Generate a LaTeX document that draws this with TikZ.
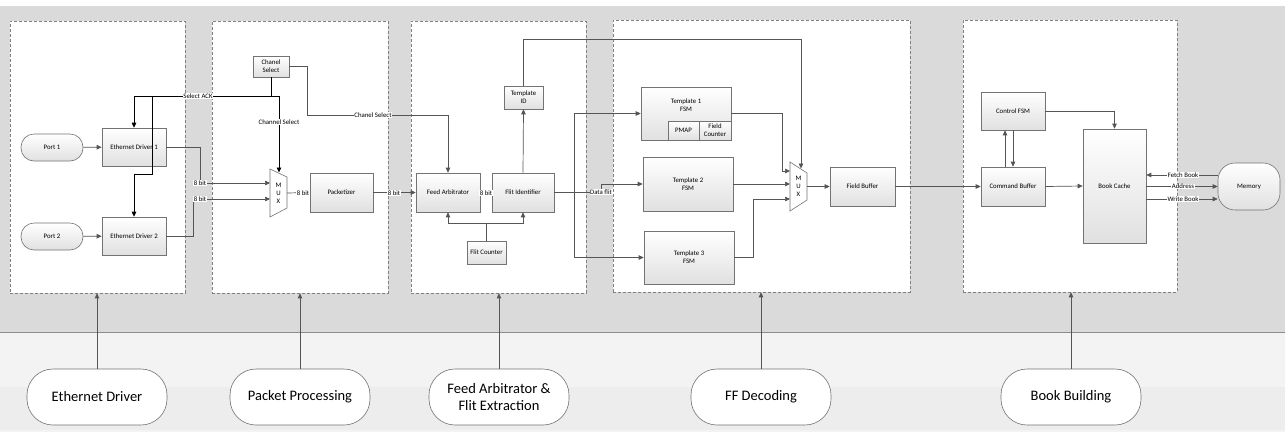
\documentclass[tikz,border=0pt]{standalone}
\usepackage{fontspec}
\setmainfont{Carlito}
\usetikzlibrary{arrows.meta,calc}
\definecolor{hatchgray}{HTML}{DADADA}
\definecolor{lowgray}{HTML}{F3F3F3}
\definecolor{lowgray2}{HTML}{EDEDED}
\definecolor{linegray}{HTML}{555555}
\newcommand\smfont{\fontsize{6.8}{8}\selectfont}
\newcommand\bigfont{\fontsize{14.5}{17}\selectfont}
\begin{document}
\begin{tikzpicture}[x=1pt,y=-1pt,
  blk/.style={draw=black!55, line width=0.6pt, top color=white, bottom color=black!12,
              inner sep=0pt, font=\smfont, align=center},
  panel/.style={draw=black!50, line width=0.6pt, dash pattern=on 3pt off 2pt, fill=white, inner sep=0pt},
  bigoval/.style={draw=black!55, line width=0.6pt, fill=white, rounded corners=26pt,
                  minimum width=140pt, minimum height=56pt, font=\bigfont, align=center, inner sep=0pt},
  sig/.style={draw=linegray, line width=0.7pt},
  ack/.style={draw=black, line width=0.9pt},
  sigarr/.style={-{Triangle[length=5pt,width=4.5pt]}},
  lbl/.style={fill=white, inner sep=0.6pt, font=\smfont},
  muxst/.style={draw=black!55, line width=0.6pt, fill=white},
  muxtxt/.style={font=\smfont, align=center, inner sep=0pt}
]
\useasboundingbox (0,0) rectangle (1285,432);
% background
\fill[white] (0,0) rectangle (1285,432);
\fill[hatchgray] (0,6) rectangle (1285,332);
\fill[lowgray] (0,332) rectangle (1285,432);
\fill[lowgray2] (0,387) rectangle (1285,430);
\draw[black!45, line width=0.6pt] (0,332) -- (1285,332);

% panels
\node[panel, minimum width=175pt, minimum height=272pt] (p1) at (97.5,157) {};
\node[panel, minimum width=176pt, minimum height=272pt] (p2) at (300,157) {};
\node[panel, minimum width=175pt, minimum height=272pt] (p3) at (498.5,157) {};
\node[panel, minimum width=297pt, minimum height=272pt] (p4) at (761.5,156) {};
\node[panel, minimum width=214pt, minimum height=272pt] (p5) at (1070,156) {};

% bottom ovals
\node[bigoval] (b1) at (97,397) {Ethernet Driver};
\node[bigoval] (b2) at (300,397) {Packet Processing};
\node[bigoval] (b3) at (499,397) {Feed Arbitrator \&\\Flit Extraction};
\node[bigoval] (b4) at (761,397) {FF Decoding};
\node[bigoval] (b5) at (1071,397) {Book Building};
\foreach \b/\p in {b1/p1,b2/p2,b3/p3,b4/p4,b5/p5}
  \draw[sig,sigarr] (\b.north) -- (\b.north |- \p.south);

% Ethernet driver panel
\node[blk, minimum width=62pt, minimum height=27pt, rounded corners=13pt] (port1) at (52,147.5) {Port 1};
\node[blk, minimum width=62pt, minimum height=27pt, rounded corners=13pt] (port2) at (52,236.5) {Port 2};
\node[blk, minimum width=64pt, minimum height=38pt] (ed1) at (134,147) {Ethernet Driver 1};
\node[blk, minimum width=64pt, minimum height=38pt] (ed2) at (134,236) {Ethernet Driver 2};

% Packet processing panel
\node[blk, minimum width=36pt, minimum height=21pt] (chsel) at (271,66.5) {Chanel\\Select};
\node[blk, minimum width=63pt, minimum height=39pt] (pack) at (341.5,192.5) {Packetizer};
\draw[muxst] (270,169) -- (287,177) -- (287,208) -- (270,217) -- cycle;
\node[muxtxt] (mux1) at (278.5,193) {M\\U\\X};
\coordinate (m1a) at (270,183);
\coordinate (m1b) at (270,199);
\coordinate (m1top) at (279,172.5);
\coordinate (m1out) at (287,193);

% Feed arbitrator panel
\node[blk, minimum width=64pt, minimum height=39pt] (feed) at (448,192.5) {Feed Arbitrator};
\node[blk, minimum width=62pt, minimum height=39pt] (flit) at (523,192.5) {Flit Identifier};
\node[blk, minimum width=39pt, minimum height=23pt] (tid) at (523.5,97.5) {Template\\ID};
\node[blk, minimum width=39pt, minimum height=23pt] (fcnt) at (486.5,252.5) {Flit Counter};

% FF decoding panel
\node[blk, minimum width=90pt, minimum height=53pt] (t1) at (686,113.5) {};
\node[muxtxt] at (686,105) {Template 1\\FSM};
\node[blk, minimum width=31pt, minimum height=19pt] (pmap) at (683.5,130.5) {PMAP};
\node[blk, minimum width=32pt, minimum height=19pt] (fcount) at (715,130.5) {Field\\Counter};
\node[blk, minimum width=90pt, minimum height=54pt] (t2) at (688,184) {Template 2\\FSM};
\node[blk, minimum width=90pt, minimum height=53pt] (t3) at (689,257.5) {Template 3\\FSM};
\draw[muxst] (790,162) -- (807,173) -- (807,200) -- (790,211) -- cycle;
\node[muxtxt] (mux2) at (798.5,186.5) {M\\U\\X};
\coordinate (m2a) at (790,171);
\coordinate (m2b) at (790,184);
\coordinate (m2c) at (790,199);
\coordinate (m2top) at (801,168.5);
\coordinate (m2out) at (807,186.5);
\node[blk, minimum width=65pt, minimum height=39pt] (fbuf) at (862.5,186.5) {Field Buffer};

% Book building panel
\node[blk, minimum width=64pt, minimum height=38pt] (cfsm) at (1013,111) {Control FSM};
\node[blk, minimum width=64pt, minimum height=39pt] (cbuf) at (1013,186.5) {Command Buffer};
\node[blk, minimum width=63pt, minimum height=114pt] (bcache) at (1114.5,186) {Book Cache};
\node[blk, minimum width=62pt, minimum height=47pt, rounded corners=17pt] (mem) at (1249,186.5) {Memory};

% ---------- connectors ----------
\draw[sig,sigarr] (port1) -- (ed1);
\draw[sig,sigarr] (port2) -- (ed2);

% select ack / channel select
\coordinate (sbus) at (279,96);
\coordinate (sb) at (152,96);
\draw[ack] (chsel.south) -- (chsel.south |- sbus);
\draw[ack,sigarr] (sbus) -- (m1top);
\draw[ack,sigarr] (sbus) -- (ed1.north |- sbus) -- (ed1.north);
\draw[ack,sigarr] (sb) -- (152,174) -| (ed2.north);

% 8 bit inputs
\draw[sig,sigarr] (ed1.east) -| (200,183) -- (m1a);
\draw[sig,sigarr] (ed2.east) -| (193,199) -- (m1b);
\draw[sig,sigarr] (m1out) -- (pack.west);
\draw[sig,sigarr] (pack.east) -- (feed.west);
\draw[sig,sigarr] (chsel.east) -| (307,115) -| (feed.north);
\draw[sig] (feed.east) -- (flit.west);
\draw[sig,sigarr] (flit.north) -- (tid.south);
\coordinate (tline) at (801,39);
\draw[sig,sigarr] (tid.north) |- (tline) -- (m2top);
\coordinate (jf) at (486.5,223);
\draw[sig,sigarr] (fcnt.north) -- (jf) -| (feed.south);
\draw[sig,sigarr] (jf) -| (flit.south);

% data flit
\coordinate (busx) at (574,0);
\draw[sig,sigarr] (flit.east) -- (601,192.5) |- (t2.west);
\draw[sig] (t1.west -| busx) -- (t3.west -| busx);
\draw[sig,sigarr] (t1.west -| busx) -- (t1.west);
\draw[sig,sigarr] (t3.west -| busx) -- (t3.west);

% templates to mux
\draw[sig,sigarr] (t1.east) -| (782,171) -- (m2a);
\draw[sig,sigarr] (t2.east) -- (m2b);
\draw[sig,sigarr] (t3.east) -| (753,199) -- (m2c);
\draw[sig,sigarr] (m2out) -- (fbuf.west);
\draw[sig,sigarr] (fbuf.east) -- (cbuf.west);

% book building
\draw[sig,sigarr] (cfsm.east) -| (bcache.north);
\draw[sig,sigarr] ([xshift=-8pt]cbuf.north) -- ([xshift=-8pt]cfsm.south);
\draw[sig,sigarr] (cfsm.south) -- (cbuf.north);
\draw[sig,sigarr] (cbuf.east) -- (bcache.west);
\draw[sig,sigarr] ([yshift=11.5pt]mem.west) -- ([yshift=11.5pt]mem.west -| bcache.east);
\draw[sig,sigarr] (bcache.east |- mem.west) -- (mem.west);
\draw[sig,sigarr] ([yshift=-12.5pt]mem.west -| bcache.east) -- ([yshift=-12.5pt]mem.west);

% ---------- labels ----------
\node[lbl] (lsack) at (198,96) {Select ACK};
\node[lbl] (lcs) at (279,122) {Channel Select};
\node[lbl] (l8a) at (200,183) {8 bit};
\node[lbl] (l8b) at (200,199) {8 bit};
\node[lbl] (l8c) at (303,193) {8 bit};
\node[lbl] (l8d) at (394,193) {8 bit};
\node[lbl] (l8e) at (486,193) {8 bit};
\node[lbl] (lcs2) at (373,115) {Chanel Select};
\node[lbl] (ldf) at (601,192) {Data flit};
\node[lbl] (lfb) at (1183,175) {Fetch Book};
\node[lbl] (ladr) at (1183,186.5) {Address};
\node[lbl] (lwb) at (1183,199) {Write Book};
\end{tikzpicture}
\end{document}
